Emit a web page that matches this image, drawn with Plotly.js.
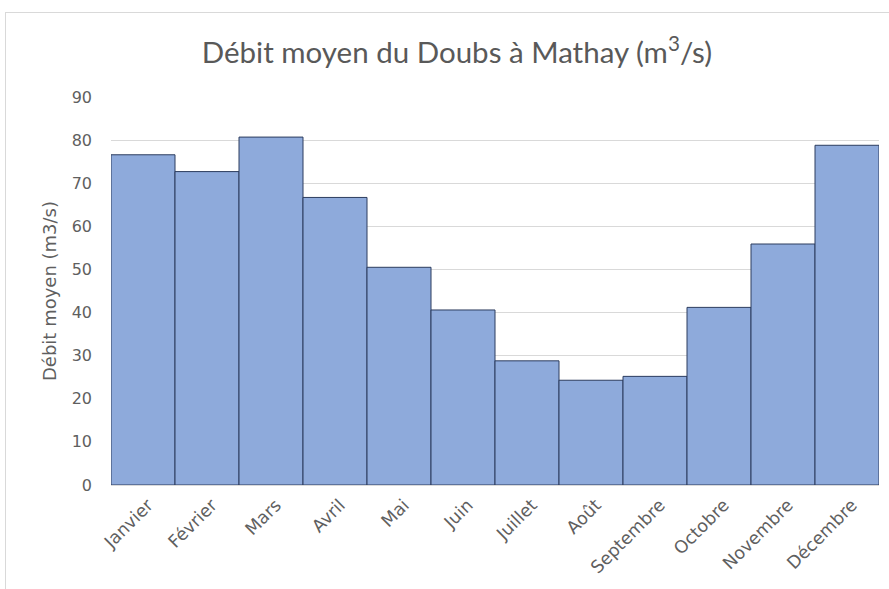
<!DOCTYPE html>
<html>
<head>
<meta charset="utf-8">
<script src="https://cdn.plot.ly/plotly-3.0.1.min.js"></script>
<style>
  html, body { margin: 0; padding: 0; background: #ffffff; }
  #wrap { position: relative; width: 889px; height: 589px; overflow: hidden; }
  #frame { position: absolute; left: 5px; top: 12px; width: 900px; height: 600px; border: 1px solid #d9d9d9; box-sizing: border-box; pointer-events: none; }
  #chart { position: absolute; left: 0; top: 0; width: 889px; height: 589px; }
</style>
</head>
<body>
<div id="wrap">
  <div id="chart"></div>
  <div id="frame"></div>
</div>
<script>
const months = ["Janvier", "Février", "Mars", "Avril", "Mai", "Juin", "Juillet", "Août", "Septembre", "Octobre", "Novembre", "Décembre"];
const debit = [76.6, 72.7, 80.7, 66.7, 50.5, 40.6, 28.8, 24.3, 25.2, 41.2, 55.9, 78.8];
const yTicks = [0, 10, 20, 30, 40, 50, 60, 70, 80, 90];

const titleFont = "Lato, 'Open Sans', sans-serif";
const labelFont = "'DejaVu Sans', 'Open Sans', sans-serif";
const grey = "#5f5f5f";

Plotly.newPlot("chart", [{
  type: "bar",
  x: months,
  y: debit,
  marker: { color: "#8eaadb", line: { color: "#2c3c5e", width: 1 } },
  hoverinfo: "x+y"
}], {
  width: 889,
  height: 589,
  margin: { l: 111, r: 10, t: 97, b: 104 },
  paper_bgcolor: "rgba(0,0,0,0)",
  plot_bgcolor: "#ffffff",
  bargap: 0,
  showlegend: false,
  font: { family: labelFont, color: grey, size: 16 },
  title: {
    text: "Débit moyen du Doubs à Mathay (m<sup>3</sup>/s)",
    font: { family: titleFont, size: 29.5, color: "#595959" },
    x: 0.514, xanchor: "center",
    y: 0.91, yanchor: "middle"
  },
  xaxis: {
    type: "category",
    tickangle: -45,
    showgrid: false,
    showline: true,
    linecolor: "#d9d9d9",
    linewidth: 1,
    ticks: "",
    ticklabelstandoff: 2,
    ticklabelshift: 5,
    tickfont: { family: labelFont, size: 17.5, color: grey }
  },
  yaxis: {
    range: [0, 90],
    tickvals: yTicks,
    ticktext: yTicks.map(String),
    showgrid: true,
    gridcolor: "#d9d9d9",
    gridwidth: 1,
    zeroline: false,
    showline: false,
    ticks: "",
    ticklabelstandoff: 18,
    tickfont: { family: labelFont, size: 16, color: grey },
    title: { text: "Débit moyen (m3/s)", font: { family: labelFont, size: 18, color: grey }, standoff: 10 }
  }
}, { displayModeBar: false, staticPlot: true });
</script>
</body>
</html>
